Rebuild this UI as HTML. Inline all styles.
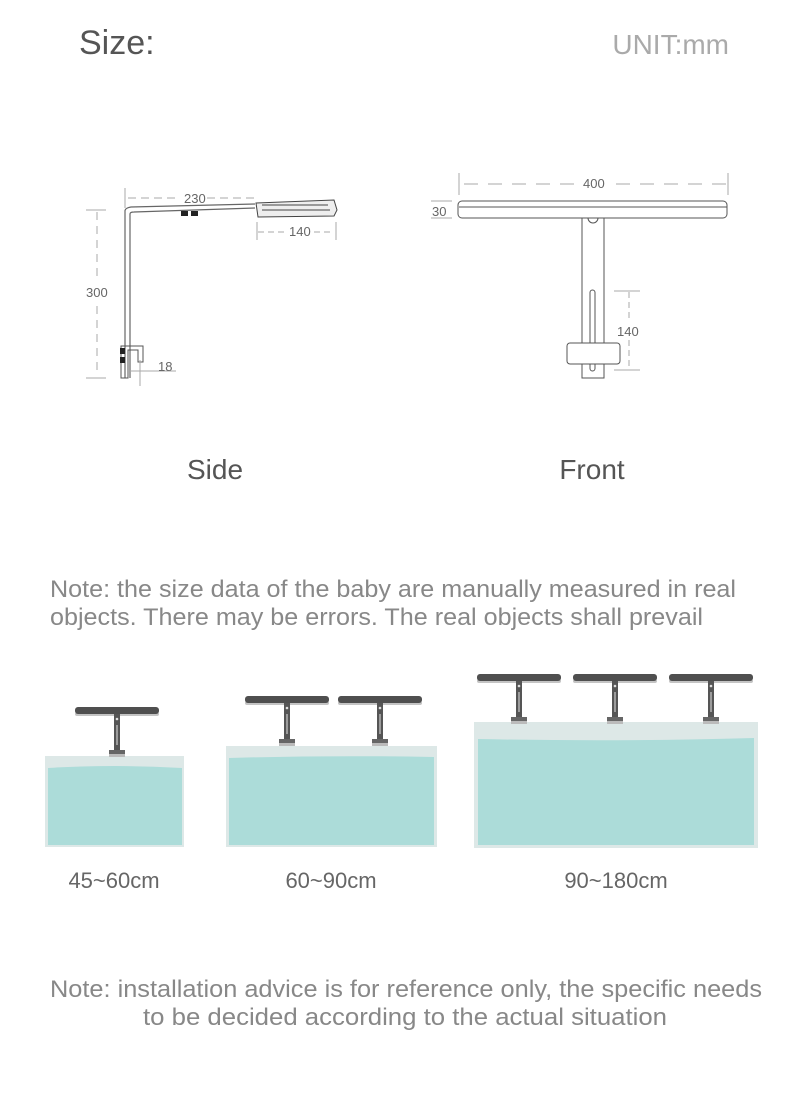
<!DOCTYPE html>
<html><head><meta charset="utf-8"><style>
html,body{margin:0;padding:0;background:#fff;width:800px;height:1107px;overflow:hidden}
</style></head><body>
<svg width="800" height="1107" viewBox="0 0 800 1107" xmlns="http://www.w3.org/2000/svg" font-family="Liberation Sans, sans-serif">
<defs>
<g id="lamp">
<rect x="-42" y="5" width="84" height="4" rx="2" fill="#c4c4c4"/>
<rect x="-42" y="0" width="84" height="7" rx="3" fill="#4f4f4f"/>
<rect x="-3" y="7" width="6" height="38" fill="#555"/>
<circle cx="0" cy="12" r="1.3" fill="#ddd"/>
<rect x="-0.6" y="18" width="1.2" height="20" fill="#ccc"/>
<rect x="-8" y="43" width="16" height="4" fill="#666"/>
<rect x="-8" y="47" width="16" height="3" fill="#bbb"/>
</g>
</defs>
<text x="79" y="54" font-size="34" fill="#555">Size:</text>
<text x="729" y="54" font-size="28" fill="#aaa" text-anchor="end">UNIT:mm</text>

<!-- Side view -->
<g stroke="#777" fill="none" stroke-width="1">
<path d="M125 188 V208" stroke="#aaa"/>
<path d="M128 198 H180 M207 198 H255" stroke="#aaa" stroke-dasharray="8,5"/>
<path d="M86 210 H106 M86 378 H106" stroke="#aaa"/>
<path d="M97 212 V280 M97 306 V376" stroke="#aaa" stroke-dasharray="8,6"/>
<path d="M258 232 H284 M314 232 H334" stroke="#aaa" stroke-dasharray="6,4"/>
<path d="M336 222 V240 M257 222 V240" stroke="#aaa"/>
<path d="M125 378 V211 Q125 208 131 207 L255 204" stroke="#666" stroke-width="1.2"/>
<path d="M130 378 V214 Q130 212 134 212 L255 208" stroke="#666" stroke-width="1.2"/>
<path d="M256 203 L334 200 L337 210 L334 216 L258 217 Z" stroke="#444" fill="#eee"/>
<path d="M262 205 H328 M262 210 H330" stroke="#444"/>
<path d="M121 346 H143 V362 H138 V350 H128 V378 H121 Z" stroke="#555"/>
<path d="M140 360 V386 M130 371 H176" stroke="#aaa"/>
</g>
<g fill="#222"><rect x="181" y="211" width="7" height="5"/><rect x="191" y="211" width="7" height="5"/><rect x="120" y="348" width="5" height="6"/><rect x="120" y="357" width="5" height="6"/></g>
<text x="184" y="203" font-size="13" fill="#666">230</text>
<text x="289" y="236" font-size="13" fill="#666">140</text>
<text x="86" y="297" font-size="13" fill="#666">300</text>
<text x="158" y="371" font-size="13" fill="#666">18</text>

<!-- Front view -->
<g stroke="#777" fill="none" stroke-width="1">
<path d="M459 173 V195 M728 173 V195" stroke="#aaa"/>
<path d="M464 184 H580 M616 184 H726" stroke="#aaa" stroke-dasharray="14,10"/>
<path d="M431 201 H452 M431 218 H452" stroke="#aaa"/>
<rect x="458" y="201" width="269" height="17" rx="4" stroke="#555"/>
<path d="M459 207 H727" stroke="#555"/>
<path d="M582 218 V378 H604 V218" stroke="#555"/>
<path d="M588 218 A5 5 0 0 0 598 218" stroke="#555"/>
<rect x="590" y="290" width="5" height="81" rx="2.5" stroke="#555"/>
<rect x="567" y="343" width="53" height="21" rx="3" stroke="#555" fill="#fff"/>
<path d="M614 291 H640 M614 370 H640" stroke="#aaa"/>
<path d="M629 292 V320 M629 340 V369" stroke="#aaa" stroke-dasharray="6,4"/>
</g>
<text x="432" y="216" font-size="13" fill="#666">30</text>
<text x="583" y="188" font-size="13" fill="#666">400</text>
<text x="617" y="336" font-size="13" fill="#666">140</text>

<text x="215" y="479" font-size="28" fill="#555" text-anchor="middle">Side</text>
<text x="592" y="479" font-size="28" fill="#555" text-anchor="middle">Front</text>

<text x="50" y="597" font-size="24" fill="#888" textLength="686" lengthAdjust="spacingAndGlyphs">Note: the size data of the baby are manually measured in real</text>
<text x="50" y="625" font-size="24" fill="#888" textLength="653" lengthAdjust="spacingAndGlyphs">objects. There may be errors. The real objects shall prevail</text>

<!-- tanks -->
<rect x="45" y="756" width="139" height="91" fill="#dde8e7"/>
<path d="M48 768 Q115 764 182 768 V845 H48 Z" fill="#acdcd9"/>
<use href="#lamp" x="117" y="707"/>

<rect x="226" y="746" width="211" height="101" fill="#dde8e7"/>
<path d="M229 758 Q330 755 434 757 V845 H229 Z" fill="#acdcd9"/>
<use href="#lamp" x="287" y="696"/>
<use href="#lamp" x="380" y="696"/>

<rect x="474" y="722" width="284" height="126" fill="#dde8e7"/>
<path d="M478 739 Q620 742 754 738 V845 H478 Z" fill="#acdcd9"/>
<use href="#lamp" x="519" y="674"/>
<use href="#lamp" x="615" y="674"/>
<use href="#lamp" x="711" y="674"/>

<text x="114" y="888" font-size="22" fill="#666" text-anchor="middle">45~60cm</text>
<text x="331" y="888" font-size="22" fill="#666" text-anchor="middle">60~90cm</text>
<text x="616" y="888" font-size="22" fill="#666" text-anchor="middle">90~180cm</text>

<text x="50" y="997" font-size="24" fill="#888" textLength="712" lengthAdjust="spacingAndGlyphs">Note: installation advice is for reference only, the specific needs</text>
<text x="143" y="1025" font-size="24" fill="#888" textLength="524" lengthAdjust="spacingAndGlyphs">to be decided according to the actual situation</text>
</svg>
</body></html>
